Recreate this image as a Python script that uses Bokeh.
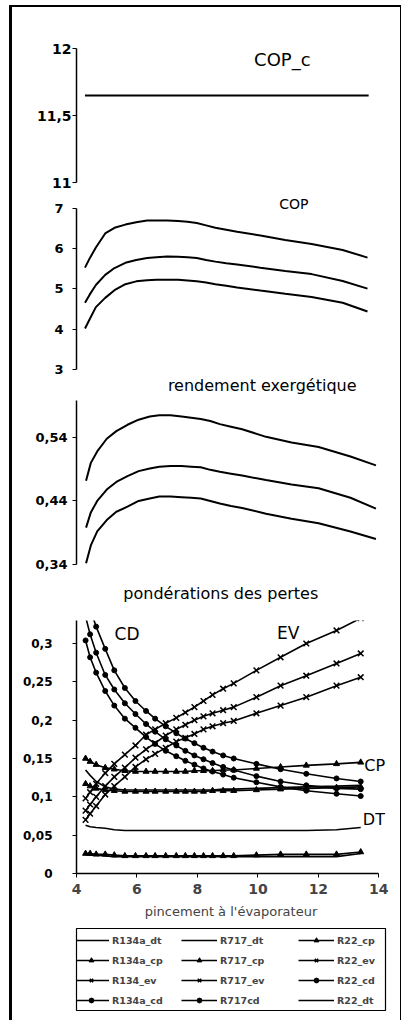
from bokeh.plotting import figure
from bokeh.models import (FixedTicker, CustomJSTickFormatter, Label, Legend,
                          LegendItem, Range1d)
from bokeh.layouts import column
from bokeh.embed import file_html
from bokeh.resources import INLINE

FONT = "DejaVu Sans"

# ---------------- data ----------------
pinch = [4.3, 4.45, 4.65, 4.95, 5.25, 5.6, 5.95, 6.3, 6.6, 6.95, 7.3, 7.6,
         7.9, 8.2, 8.5, 8.85, 9.2, 9.95, 10.75, 11.6, 12.6, 13.4]

cop_carnot = [11.65, 11.65, 11.65, 11.65, 11.65, 11.65, 11.65, 11.65, 11.65,
              11.65, 11.65, 11.65, 11.65, 11.65, 11.65, 11.65, 11.65, 11.65,
              11.65, 11.65, 11.65, 11.65]

cop_r717 = [5.53, 5.76, 6.03, 6.38, 6.52, 6.60, 6.66, 6.70, 6.70, 6.70, 6.69,
            6.67, 6.64, 6.58, 6.52, 6.47, 6.42, 6.33, 6.22, 6.12, 5.97, 5.78]
cop_r22 = [4.66, 4.86, 5.10, 5.35, 5.52, 5.65, 5.72, 5.77, 5.79, 5.81, 5.80,
           5.79, 5.77, 5.72, 5.68, 5.64, 5.61, 5.53, 5.45, 5.37, 5.20, 5.01]
cop_r134a = [4.02, 4.25, 4.55, 4.78, 4.97, 5.12, 5.19, 5.22, 5.23, 5.23, 5.23,
             5.21, 5.19, 5.16, 5.12, 5.08, 5.04, 4.96, 4.88, 4.80, 4.66, 4.44]

rend_r717 = [0.472, 0.500, 0.518, 0.538, 0.550, 0.560, 0.568, 0.573, 0.575,
             0.575, 0.573, 0.571, 0.569, 0.566, 0.561, 0.557, 0.553, 0.541,
             0.532, 0.525, 0.510, 0.496]
rend_r22 = [0.398, 0.422, 0.440, 0.458, 0.470, 0.479, 0.487, 0.491, 0.494,
            0.495, 0.495, 0.494, 0.493, 0.489, 0.486, 0.483, 0.480, 0.473,
            0.466, 0.460, 0.445, 0.428]
rend_r134a = [0.342, 0.370, 0.392, 0.410, 0.423, 0.431, 0.440, 0.444, 0.447,
              0.447, 0.446, 0.445, 0.444, 0.440, 0.436, 0.432, 0.429, 0.420,
              0.412, 0.405, 0.392, 0.380]

# loss weightings
r134a_dt = [0.063, 0.061, 0.060, 0.059, 0.057, 0.056, 0.056, 0.056, 0.056,
            0.056, 0.056, 0.056, 0.056, 0.056, 0.056, 0.056, 0.056, 0.056,
            0.056, 0.056, 0.057, 0.060]
r717_dt = [0.025, 0.024, 0.024, 0.023, 0.022, 0.022, 0.022, 0.022, 0.022,
           0.022, 0.022, 0.022, 0.022, 0.022, 0.022, 0.022, 0.022, 0.022,
           0.022, 0.022, 0.022, 0.026]
r22_dt = [0.135, 0.128, 0.120, 0.113, 0.110, 0.109, 0.109, 0.109, 0.109,
          0.109, 0.109, 0.109, 0.109, 0.109, 0.109, 0.110, 0.110, 0.111,
          0.112, 0.113, 0.114, 0.115]
r134a_cp = [0.150, 0.146, 0.142, 0.138, 0.136, 0.134, 0.133, 0.133, 0.133,
            0.133, 0.133, 0.133, 0.134, 0.134, 0.134, 0.135, 0.135, 0.137,
            0.139, 0.141, 0.143, 0.145]
r22_cp = [0.117, 0.114, 0.111, 0.109, 0.108, 0.107, 0.107, 0.107, 0.107,
          0.107, 0.107, 0.107, 0.107, 0.107, 0.108, 0.108, 0.108, 0.109,
          0.110, 0.111, 0.112, 0.113]
r717_cp = [0.026, 0.026, 0.025, 0.025, 0.024, 0.023, 0.023, 0.023, 0.023,
           0.023, 0.023, 0.023, 0.023, 0.023, 0.023, 0.023, 0.023, 0.024,
           0.025, 0.025, 0.025, 0.028]
r134_ev = [0.098, 0.106, 0.117, 0.131, 0.143, 0.155, 0.167, 0.181, 0.188,
           0.196, 0.203, 0.210, 0.217, 0.225, 0.233, 0.241, 0.248, 0.265,
           0.282, 0.300, 0.317, 0.333]
r717_ev = [0.082, 0.090, 0.100, 0.114, 0.126, 0.138, 0.151, 0.162, 0.170,
           0.180, 0.188, 0.194, 0.200, 0.205, 0.209, 0.213, 0.217, 0.230,
           0.245, 0.258, 0.274, 0.287]
r22_ev = [0.070, 0.078, 0.088, 0.103, 0.114, 0.126, 0.139, 0.149, 0.156,
          0.164, 0.172, 0.177, 0.182, 0.188, 0.192, 0.196, 0.199, 0.209,
          0.219, 0.230, 0.245, 0.256]
r717_cd = [0.370, 0.345, 0.322, 0.293, 0.265, 0.242, 0.225, 0.212, 0.202,
           0.192, 0.183, 0.176, 0.170, 0.164, 0.159, 0.154, 0.150, 0.143,
           0.136, 0.130, 0.124, 0.120]
r22_cd = [0.335, 0.312, 0.288, 0.259, 0.240, 0.222, 0.208, 0.195, 0.185,
          0.175, 0.167, 0.160, 0.154, 0.149, 0.144, 0.139, 0.135, 0.127,
          0.120, 0.115, 0.111, 0.110]
r134a_cd = [0.304, 0.282, 0.262, 0.238, 0.219, 0.202, 0.190, 0.178, 0.169,
            0.160, 0.153, 0.147, 0.142, 0.137, 0.133, 0.129, 0.125, 0.119,
            0.113, 0.108, 0.104, 0.101]

ticks_copc = [11, 11.5, 12]
ticks_cop = [3, 4, 5, 6, 7]
ticks_rend = [0.34, 0.44, 0.54]
ticks_pond = [0, 0.05, 0.1, 0.15, 0.2, 0.25, 0.3]
ticks_x = [4, 6, 8, 10, 12, 14]

# legend columns (label, series, marker, marker size)
legend_cols = [
    [("R134a_dt", r134a_dt, None, 0), ("R134a_cp", r134a_cp, "triangle", 6),
     ("R134_ev", r134_ev, "x", 8), ("R134a_cd", r134a_cd, "circle", 5)],
    [("R717_dt", r717_dt, None, 0), ("R717_cp", r717_cp, "triangle", 6),
     ("R717_ev", r717_ev, "x", 8), ("R717cd", r717_cd, "circle", 5)],
    [("R22_cp", r22_cp, "triangle", 6), ("R22_ev", r22_ev, "x", 8),
     ("R22_cd", r22_cd, "circle", 5), ("R22_dt", r22_dt, None, 0)],
]

# ---------------- helpers ----------------
W = 388
fmt = CustomJSTickFormatter(
    code="return String(Math.round(tick*1000)/1000).replace('.', ',');")


def make_fig(height, xr, yr, left, right, top, bottom, x_axis=False,
             y_axis=True, tick_size="13px"):
    p = figure(width=W, height=height, x_range=Range1d(*xr),
               y_range=Range1d(*yr), output_backend="svg",
               toolbar_location=None,
               x_axis_location="below" if x_axis else None,
               y_axis_location="left" if y_axis else None,
               min_border_left=left, min_border_right=right,
               min_border_top=top, min_border_bottom=bottom)
    p.grid.visible = False
    p.outline_line_color = None
    p.background_fill_color = "white"
    p.border_fill_color = "white"
    for ax in p.yaxis:
        ax.formatter = fmt
        ax.axis_line_width = 1.5
        ax.major_tick_line_width = 1.2
        ax.major_tick_in = 0
        ax.major_tick_out = 4
        ax.minor_tick_line_color = None
        ax.major_label_text_font = FONT
        ax.major_label_text_font_style = "bold"
        ax.major_label_text_font_size = tick_size
        ax.major_label_text_color = "black"
        ax.axis_line_color = "black"
        ax.major_tick_line_color = "black"
    return p


def add_text(p, x, y, text, size, align="center", style="normal"):
    p.add_layout(Label(x=x, y=y, text=text, text_font=FONT,
                       text_font_size=size, text_align=align,
                       text_baseline="middle", text_font_style=style,
                       text_color="black"))


# ---------------- panel 1 : COP_c ----------------
f1 = make_fig(188, (4.029, 13.94), (10.903, 12.306), 54, 5, 0, 0,
              tick_size="14px")
f1.yaxis.ticker = FixedTicker(ticks=ticks_copc)
f1.yaxis.bounds = (11, 12)
f1.yaxis.major_label_standoff = 1
f1.line(pinch, cop_carnot, line_color="black", line_width=2)
add_text(f1, 10.63, 11.918, "COP_c", "18px")

# ---------------- panel 2 : COP ----------------
f2 = make_fig(181, (4.026, 13.98), (2.826, 7.323), 56, 5, 0, 0,
              tick_size="13px")
f2.yaxis.ticker = FixedTicker(ticks=ticks_cop)
f2.yaxis.bounds = (3, 7)
f2.yaxis.major_label_standoff = 9
for ys in (cop_r717, cop_r22, cop_r134a):
    f2.line(pinch, ys, line_color="black", line_width=2)
add_text(f2, 11.03, 7.12, "COP", "14px")

# ---------------- panel 3 : rendement exergetique ----------------
# (its frame runs down to the heading of the last panel)
f3 = make_fig(229, (4.0, 13.7), (0.2754, 0.636), 60, 5, 0, 0,
              tick_size="13px")
f3.yaxis.ticker = FixedTicker(ticks=ticks_rend)
f3.yaxis.bounds = (0.34, 0.598)
f3.yaxis.major_label_standoff = 5
for ys in (rend_r717, rend_r22, rend_r134a):
    f3.line(pinch, ys, line_color="black", line_width=2)
add_text(f3, 9.83, 0.622, "rendement exergétique", "16px")
add_text(f3, 8.53, 0.2943, "pondérations des pertes", "16px")

# ---------------- panel 4 : ponderations des pertes ----------------
f4 = make_fig(320, (4, 14.22), (0, 0.33), 64, 0, 15, 52, x_axis=True,
              tick_size="12px")
f4.yaxis.ticker = FixedTicker(ticks=ticks_pond)
f4.yaxis.major_label_standoff = 20
xa = f4.xaxis[0]
xa.ticker = FixedTicker(ticks=ticks_x)
xa.bounds = (4, 14)
xa.axis_line_width = 1.5
xa.axis_line_color = "black"
xa.major_tick_line_color = "black"
xa.major_tick_in = 0
xa.major_tick_out = 4
xa.minor_tick_line_color = None
xa.major_label_text_font = FONT
xa.major_label_text_font_style = "bold"
xa.major_label_text_font_size = "14px"
xa.major_label_standoff = 6
xa.axis_label = "pincement à l'évaporateur"
xa.axis_label_text_font = FONT
xa.axis_label_text_font_style = "normal"
xa.axis_label_text_font_size = "13px"
xa.axis_label_standoff = 7


def draw_series(p, ys, marker, size, lw=1.6):
    r = [p.line(pinch, ys, line_color="black", line_width=lw)]
    if marker is not None:
        kw = dict(marker=marker, size=size, line_color="black",
                  fill_color="black")
        if marker == "x":
            kw["line_width"] = 1.5
        r.append(p.scatter(pinch, ys, **kw))
    return r


for col in legend_cols:
    for lab, ys, mk, sz in col:
        draw_series(f4, ys, mk, sz)

add_text(f4, 5.67, 0.312, "CD", "17px")
add_text(f4, 11.0, 0.314, "EV", "17px")
add_text(f4, 13.52, 0.141, "CP", "16px", align="left")
add_text(f4, 13.47, 0.070, "DT", "16px", align="left")

# ---------------- legend box ----------------
f5 = make_fig(95, (0, 1), (0, 1), 48, 15, 3, 10, x_axis=False, y_axis=False)
f5.outline_line_color = "black"
f5.outline_line_width = 1.2
for i, col in enumerate(legend_cols):
    items = []
    for lab, ys, mk, sz in col:
        rs = draw_series(f5, ys, mk, sz)
        items.append(LegendItem(label=lab, renderers=rs))
    lg = Legend(items=items, location=(-3 + [0, 108, 225][i], 4))
    lg.label_text_font = FONT
    lg.label_text_font_size = "9.5px"
    lg.label_text_font_style = "bold"
    lg.label_standoff = 3
    lg.glyph_width = 36
    lg.glyph_height = 12
    lg.label_height = 12
    lg.spacing = 8
    lg.padding = 3
    lg.margin = 0
    lg.border_line_color = None
    lg.background_fill_alpha = 0
    f5.add_layout(lg)

page = column(f1, f2, f3, f4, f5, spacing=0,
              styles={"margin-left": "9px", "margin-top": "5px",
                      "border-top": "2px solid black",
                      "border-left": "3px solid black",
                      "border-right": "1px solid black"})

open("out.html", "w").write(file_html(page, INLINE))
